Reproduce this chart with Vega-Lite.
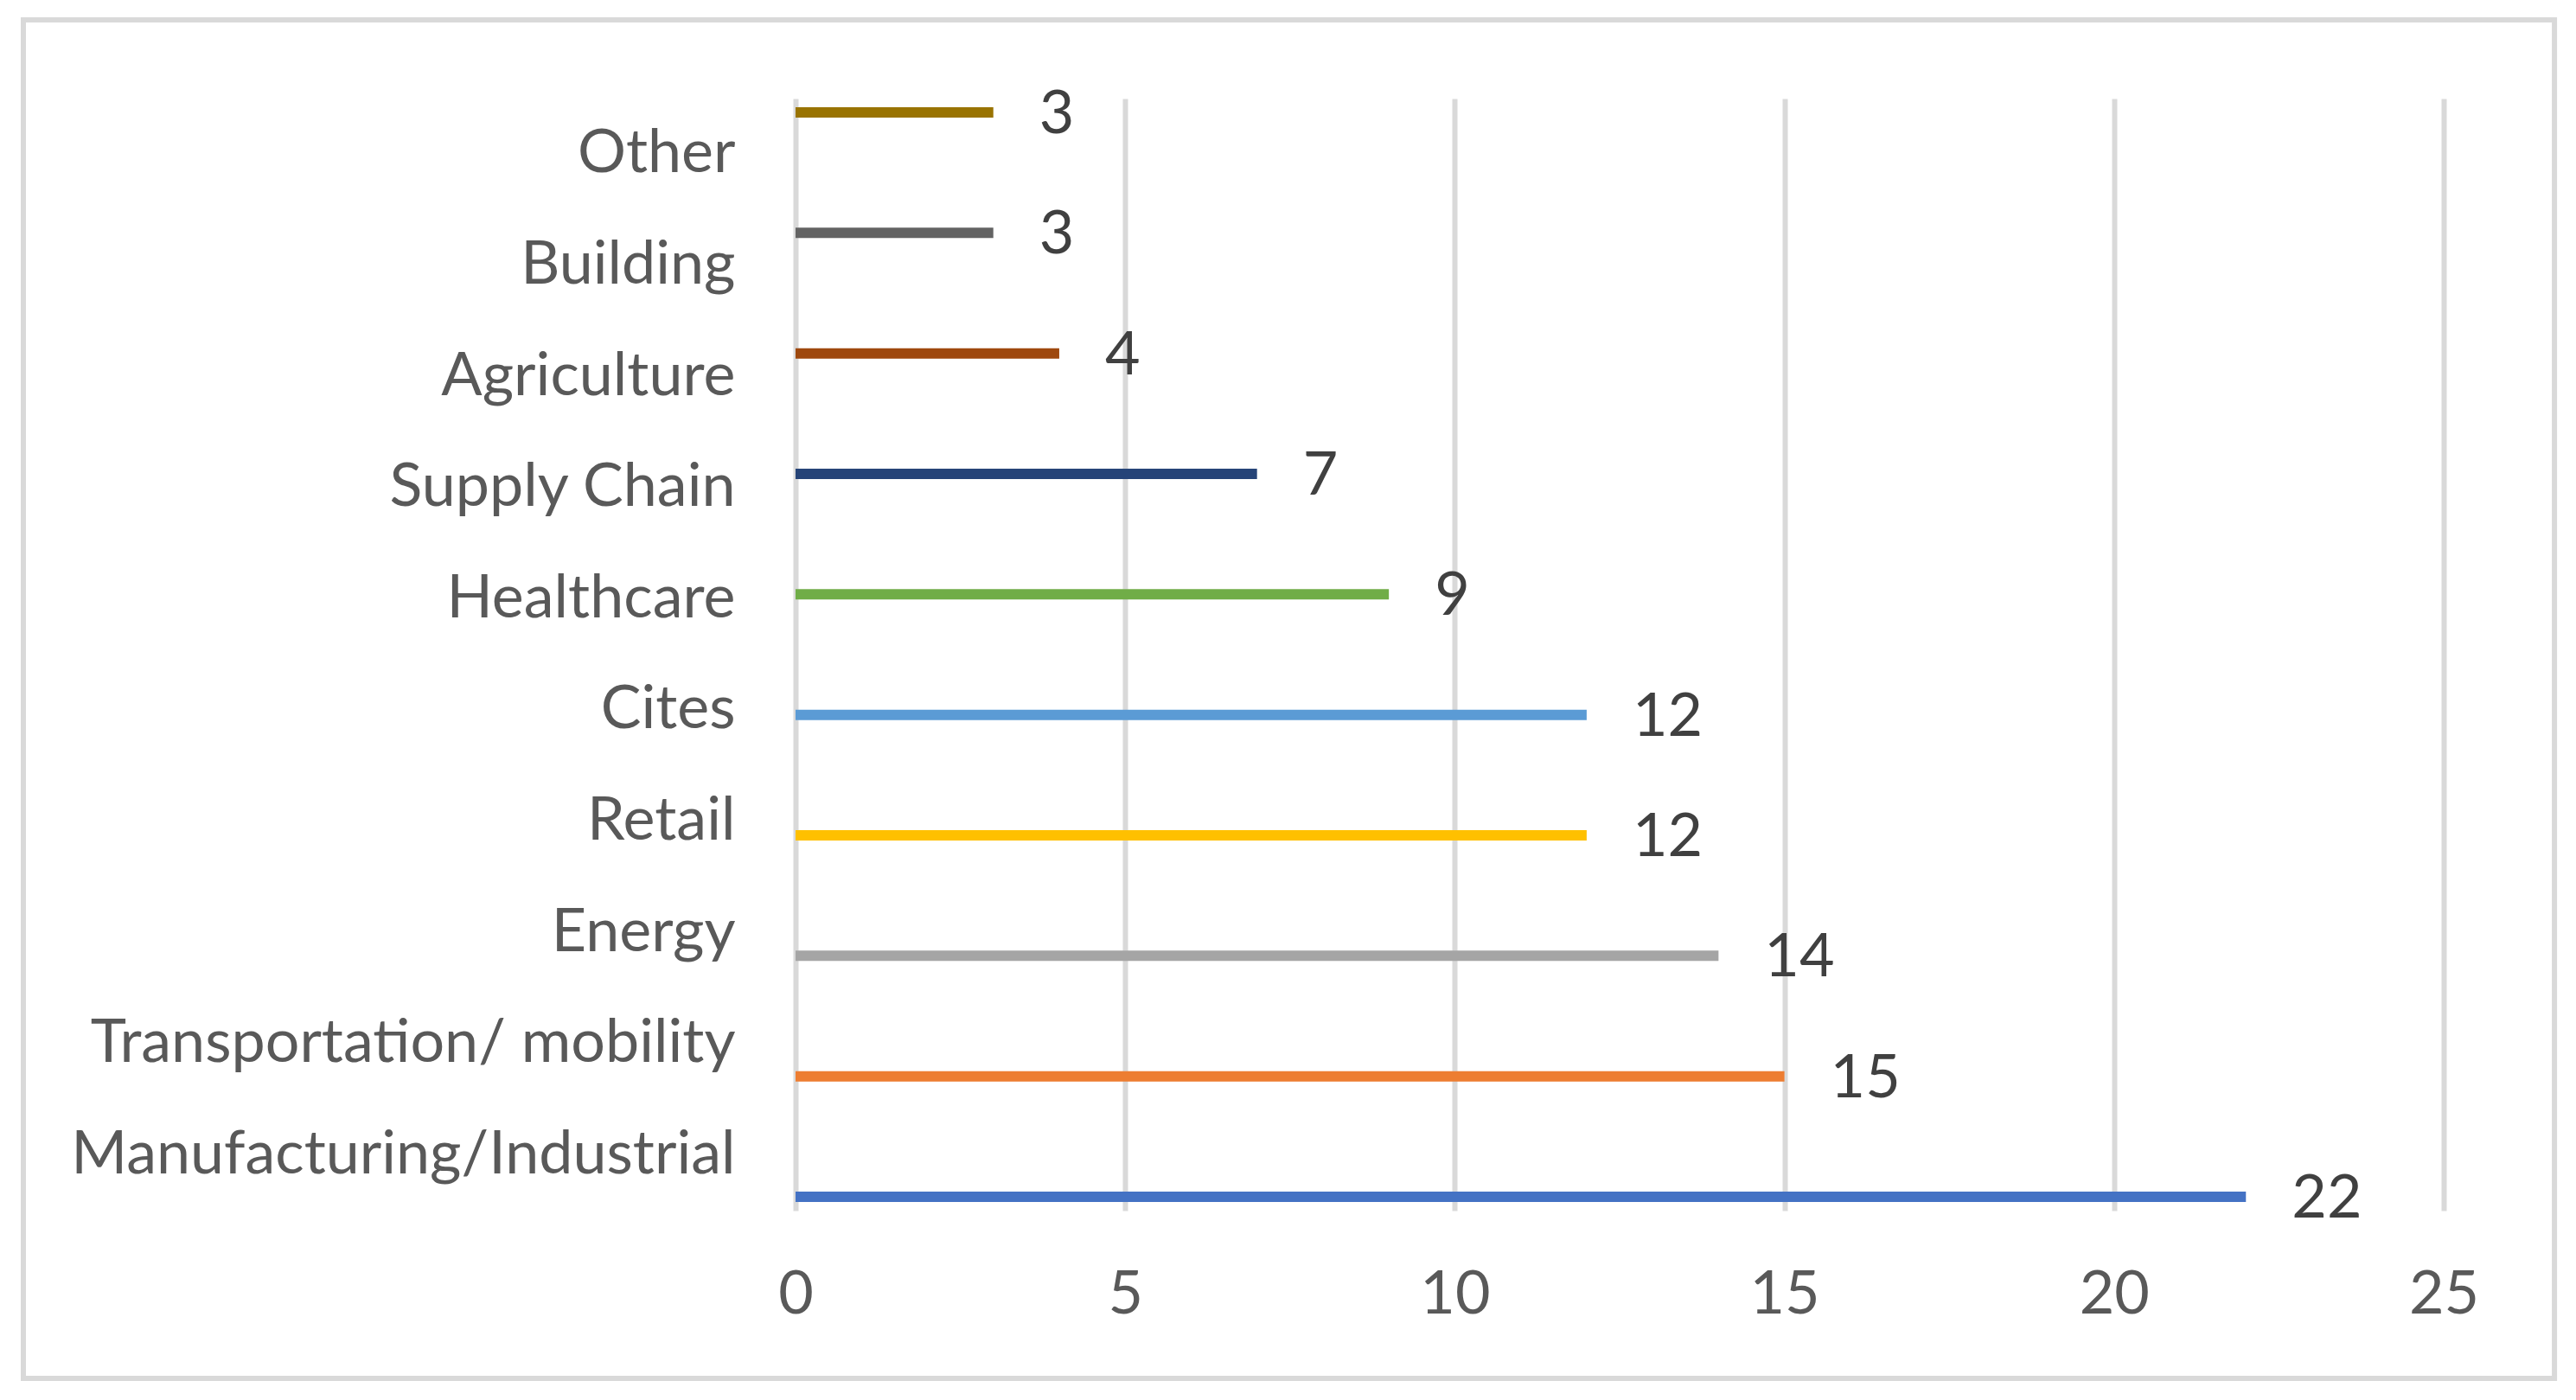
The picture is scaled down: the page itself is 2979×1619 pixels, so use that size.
{
  "$schema": "https://vega.github.io/schema/vega-lite/v6.json",
  "width": 1906,
  "height": 1286,
  "autosize": {"type": "none"},
  "padding": {"left": 920, "top": 114, "right": 153, "bottom": 219},
  "background": "white",
  "config": {"view": {"stroke": null}, "font": "Lato"},
  "datasets": {
    "sectors": [
      {"sector": "Other", "count": 3},
      {"sector": "Building", "count": 3},
      {"sector": "Agriculture", "count": 4},
      {"sector": "Supply Chain", "count": 7},
      {"sector": "Healthcare", "count": 9},
      {"sector": "Cites", "count": 12},
      {"sector": "Retail", "count": 12},
      {"sector": "Energy", "count": 14},
      {"sector": "Transportation/ mobility", "count": 15},
      {"sector": "Manufacturing/Industrial", "count": 22}
    ]
  },
  "layer": [
    {
      "data": {"name": "sectors"},
      "mark": {"type": "bar", "opacity": 0},
      "encoding": {
        "x": {
          "field": "count",
          "type": "quantitative",
          "scale": {"domain": [0, 25], "nice": false},
          "axis": {
            "title": null,
            "values": [0, 5, 10, 15, 20, 25],
            "format": "d",
            "grid": true,
            "gridColor": "#d9d9d9",
            "gridWidth": 6,
            "domain": false,
            "ticks": false,
            "labelFlush": false,
            "labelFont": "Lato",
            "labelFontSize": 70,
            "labelColor": "#595959",
            "labelPadding": 63
          }
        },
        "y": {
          "field": "sector",
          "type": "nominal",
          "sort": ["Other", "Building", "Agriculture", "Supply Chain", "Healthcare", "Cites", "Retail", "Energy", "Transportation/ mobility", "Manufacturing/Industrial"],
          "scale": {"type": "band", "paddingInner": 0, "paddingOuter": 0},
          "axis": {
            "title": null,
            "ticks": false,
            "domain": false,
            "grid": false,
            "labelFont": "Lato",
            "labelFontSize": 70,
            "labelColor": "#595959",
            "labelPadding": 70,
            "labelLimit": 2000
          }
        }
      }
    },
    {
      "data": {"name": "sectors"},
      "mark": {"type": "bar", "size": 12},
      "encoding": {
        "x": {"field": "count", "type": "quantitative"},
        "y": {
          "field": "sector",
          "type": "nominal",
          "sort": ["Other", "Building", "Agriculture", "Supply Chain", "Healthcare", "Cites", "Retail", "Energy", "Transportation/ mobility", "Manufacturing/Industrial"],
          "scale": {"type": "point", "padding": 0.115},
          "axis": null
        },
        "color": {
          "field": "sector",
          "type": "nominal",
          "scale": {
            "domain": ["Manufacturing/Industrial", "Transportation/ mobility", "Energy", "Retail", "Cites", "Healthcare", "Supply Chain", "Agriculture", "Building", "Other"],
            "range": ["#4472C4", "#ED7D31", "#A5A5A5", "#FFC000", "#5B9BD5", "#70AD47", "#264478", "#9E480E", "#636363", "#997300"]
          },
          "legend": null
        }
      }
    },
    {
      "data": {"name": "sectors"},
      "mark": {"type": "text", "align": "left", "baseline": "middle", "dx": 53, "dy": 3, "fontSize": 70, "font": "Lato", "color": "#404040"},
      "encoding": {
        "x": {"field": "count", "type": "quantitative"},
        "y": {
          "field": "sector",
          "type": "nominal",
          "sort": ["Other", "Building", "Agriculture", "Supply Chain", "Healthcare", "Cites", "Retail", "Energy", "Transportation/ mobility", "Manufacturing/Industrial"],
          "scale": {"type": "point", "padding": 0.115},
          "axis": null
        },
        "text": {"field": "count", "type": "quantitative"}
      }
    },
    {
      "data": {"values": [{"left": -11.713, "right": 26.68, "top": 1.0708, "bottom": -0.1509}]},
      "mark": {"type": "rect", "filled": false, "stroke": "#d9d9d9", "strokeWidth": 6, "clip": false},
      "encoding": {
        "x": {"field": "left", "type": "quantitative"},
        "x2": {"field": "right"},
        "y": {"field": "top", "type": "quantitative", "scale": {"domain": [0, 1], "nice": false, "zero": false}, "axis": null},
        "y2": {"field": "bottom"}
      }
    }
  ],
  "resolve": {"scale": {"y": "independent", "color": "independent"}, "axis": {"y": "independent"}}
}
